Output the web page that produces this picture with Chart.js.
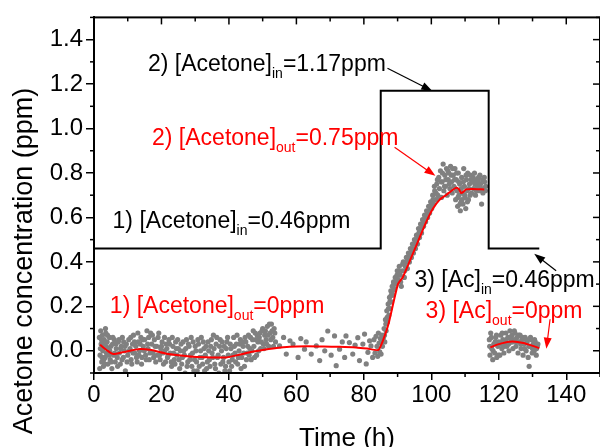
<!DOCTYPE html>
<html>
<head>
<meta charset="utf-8">
<script src="https://cdn.jsdelivr.net/npm/chart.js@4.4.1/dist/chart.umd.min.js"></script>
<style>
  html, body { margin: 0; padding: 0; overflow: hidden; background: #fff; }
  canvas { display: block; }
</style>
</head>
<body>
<canvas id="acetoneChart" width="604" height="447"></canvas>
<script>
// axis ticks
const xTicks = [0, 20, 40, 60, 80, 100, 120, 140];
const xMinorTicks = [10, 30, 50, 70, 90, 110, 130, 150];
const yTicks = [0, 0.2, 0.4, 0.6, 0.8, 1.0, 1.2, 1.4];
const yMinorTicks = [-0.1, 0.1, 0.3, 0.5, 0.7, 0.9, 1.1, 1.3, 1.5];

// inlet concentration (step)
const feedTime = [0, 85, 117, 132];
const feedConc = [0.46, 1.17, 0.46, 0.46];

// smoothed outlet concentration, run 1+2
const fitTime1 = [1.8, 4, 5.7, 9, 13.6, 17, 21.5, 25, 29.4, 35, 39.3, 43, 46.2, 50, 53.1, 58, 63, 68, 72.8, 77.7, 81, 84.3,
  86, 87.3, 90.1, 91.5, 93.5, 96, 98.5, 100.5, 102.5, 104.3, 106, 107.3, 108.2, 108.8, 109.5, 110.3, 112, 115.7];
const fitConc1 = [0.027, 0.0, -0.015, -0.005, 0.008, 0.003, -0.013, -0.02, -0.027, -0.03, -0.03, -0.018, -0.007, 0.003, 0.01, 0.018, 0.02, 0.019, 0.018, 0.015, 0.01, 0.004,
  0.06, 0.12, 0.30, 0.33, 0.40, 0.49, 0.58, 0.64, 0.68, 0.70, 0.72, 0.733, 0.727, 0.71, 0.715, 0.726, 0.728, 0.726];

// smoothed outlet concentration, run 3
const fitTime2 = [117.5, 120, 124, 128, 132];
const fitConc2 = [0.015, 0.03, 0.042, 0.032, 0.012];

// measured outlet points [time, conc]
const baselinePoints = [
  [1.6,0.06],[1.7,-0.08],[1.8,-0.02],[2.0,0.09],[2.1,0.03],[2.2,0.05],[2.3,-0.05],[2.5,0.07],[2.6,0.00],[2.8,-0.07],
  [2.9,-0.04],[3.0,0.05],[3.1,0.02],[3.3,-0.03],[3.4,0.10],[3.5,0.08],[3.7,-0.01],[3.9,0.04],[4.1,-0.06],[4.3,0.01],
  [4.6,0.06],[4.8,-0.04],[5.0,0.02],[5.3,-0.08],[5.5,0.03],[5.8,-0.02],[6.0,0.05],[6.3,-0.05],[6.6,0.01],[6.9,-0.03],
  [7.2,0.04],[7.5,-0.01],[7.8,-0.06],[8.1,0.02],[8.4,0.06],[8.7,-0.03],[9.0,0.00],[9.3,-0.09],[9.6,0.03],[10.0,-0.02],
  [10.3,0.05],[10.7,0.01],[11.0,-0.04],[11.4,0.03],[11.7,0.07],[12.1,-0.01],[12.4,0.02],[12.8,-0.05],[13.1,0.04],[13.5,0.00],
  [13.9,0.06],[14.2,-0.03],[14.6,0.02],[15.0,0.05],[15.3,-0.02],[15.7,0.09],[16.0,0.01],[16.4,-0.04],[16.8,0.08],[17.1,0.03],
  [17.5,-0.01],[17.9,0.05],[18.3,-0.05],[18.6,0.02],[19.0,0.06],[19.4,-0.02],[19.8,0.01],[20.2,0.04],[20.6,-0.06],[21.0,0.00],
  [21.4,0.03],[21.8,-0.03],[22.2,0.05],[22.6,-0.01],[23.0,-0.07],[23.4,0.02],[23.8,-0.04],[24.2,0.04],[24.6,-0.02],[25.0,0.01],
  [25.4,-0.08],[25.8,0.03],[26.2,-0.03],[26.6,0.00],[27.0,-0.10],[27.4,0.05],[27.8,-0.05],[28.2,0.02],[28.6,-0.02],[29.0,-0.07],
  [29.4,0.04],[29.8,-0.04],[30.2,0.00],[30.6,-0.09],[31.0,0.03],[31.4,-0.03],[31.8,0.06],[32.2,-0.06],[32.6,0.01],[33.0,-0.02],
  [33.4,-0.08],[33.8,0.04],[34.2,-0.04],[34.6,0.02],[35.0,-0.01],[35.4,0.07],[35.8,-0.06],[36.2,0.03],[36.6,-0.03],[37.0,-0.10],
  [37.4,0.05],[37.8,0.00],[38.2,-0.05],[38.6,0.02],[39.0,-0.07],[39.4,0.04],[39.8,-0.02],[40.2,-0.09],[40.6,0.01],[41.0,-0.04],
  [41.4,0.06],[41.8,-0.01],[42.2,0.03],[42.6,-0.06],[43.0,0.00],[43.4,0.05],[43.8,-0.03],[44.2,0.02],[44.6,-0.07],[45.0,0.04],
  [45.4,-0.01],[45.8,0.07],[46.2,0.01],[46.6,-0.04],[47.0,0.05],[47.4,0.02],[47.8,0.08],[48.2,-0.02],[48.6,0.04],[49.0,0.06],
  [49.4,0.01],[49.8,0.09],[50.2,0.03],[50.6,0.07],[51.0,0.05],[51.4,0.11],[51.8,0.02],[52.2,0.08],[52.6,0.12],[53.0,0.06],
  [53.4,0.10],[53.8,0.04],
  [1.9,0.01],[2.4,-0.03],[2.7,0.04],[3.2,-0.06],[3.6,0.02],[4.0,0.07],[4.4,-0.02],[4.7,0.00],[5.1,-0.05],[5.6,0.06],
  [6.1,-0.01],[6.5,0.03],[7.0,-0.07],[7.4,0.05],[7.9,0.01],[8.3,-0.04],[8.8,0.04],[9.2,0.02],[9.8,-0.05],[10.5,0.00],
  [10.9,0.06],[11.2,-0.06],[11.6,-0.01],[12.0,0.04],[12.6,-0.03],[13.0,0.08],[13.3,-0.02],[13.7,0.03],[14.1,-0.06],[14.4,0.05],
  [14.9,0.00],[15.5,-0.04],[15.9,0.03],[16.2,0.06],[16.6,-0.01],[17.3,0.07],[17.7,-0.03],[18.1,0.02],[18.8,-0.02],[19.2,0.08],
  [19.6,-0.04],[20.0,0.02],[20.4,-0.01],[20.9,0.06],[21.2,-0.05],[21.6,0.01],[22.0,-0.02],[22.4,0.03],[22.9,-0.05],[23.2,0.06],
  [23.6,-0.01],[24.0,-0.06],[24.4,0.01],[24.8,0.05],[25.2,-0.04],[25.6,0.00],[26.0,-0.06],[26.4,0.04],[26.8,-0.02],[27.2,0.01],
  [27.6,-0.07],[28.0,0.03],[28.4,-0.04],[28.8,0.06],[29.2,-0.01],[29.6,-0.09],[30.0,0.02],[30.4,-0.05],[30.8,0.05],[31.2,-0.07],
  [31.6,0.00],[32.0,-0.03],[32.4,0.04],[32.8,-0.09],[33.2,0.02],[33.6,-0.05],[34.0,0.00],[34.4,-0.07],[34.8,0.05],[35.2,-0.03],
  [35.6,0.01],[36.0,-0.08],[36.4,0.06],[36.8,-0.02],[37.2,0.02],[37.6,-0.06],[38.0,0.04],[38.4,-0.03],[38.8,-0.09],[39.2,0.01],
  [39.6,0.06],[40.0,-0.05],[40.4,0.03],[40.8,-0.07],[41.2,-0.02],[41.6,0.02],[42.0,-0.05],[42.4,0.07],[42.8,-0.03],[43.2,0.03],
  [43.6,-0.08],[44.0,0.04],[44.4,-0.01],[44.8,0.06],[45.2,-0.04],[45.6,0.02],[46.0,-0.02],[46.4,0.06],[46.8,0.00],[47.2,0.09],
  [47.6,-0.03],[48.0,0.05],[48.4,0.07],[48.8,0.00],[49.2,0.08],[49.6,0.04],[50.0,0.10],[50.4,0.01],[50.8,0.09],[51.2,0.03],
  [51.6,0.07],[52.0,0.12],[52.4,0.05],[52.8,0.09],[53.2,0.02],[53.6,0.08],
  [55.0,0.022],[56.2,0.06],[57.0,-0.015],[58.1,0.045],[59.0,0.03],[60.5,-0.03],[61.3,0.055],[62.4,0.007],[62.9,0.04],[64.4,-0.015],
  [65.9,0.022],[66.9,-0.044],[67.6,0.05],[68.4,0.0],[69.3,0.089],[70.3,-0.02],[71.3,0.067],[71.8,-0.067],[72.8,0.007],[73.6,0.04],
  [74.3,-0.03],[74.7,0.067],[75.7,0.037],[76.7,-0.015],[77.4,0.025],[78.2,0.059],[78.7,-0.044],[79.7,0.03],[80.2,0.075],[80.7,-0.059],
  [81.2,-0.007],[81.7,0.045],[82.1,0.022],[82.6,-0.03],[83.0,0.05],[83.3,-0.01],[83.6,0.065],[83.9,0.02],[84.1,-0.025],[84.3,0.08],
  [84.5,0.035],[84.7,-0.005],[84.9,0.055],[85.1,-0.015],[85.3,0.07],[85.5,0.02],[85.7,0.045]
];

const risePoints = [
  [85.8,0.06],[86.0,0.10],[86.2,0.04],[86.4,0.14],[86.6,0.09],[86.8,0.18],[87.0,0.13],[87.2,0.21],[87.4,0.16],[87.6,0.24],
  [87.8,0.19],[88.0,0.27],[88.2,0.22],[88.4,0.29],[88.6,0.25],[88.8,0.31],[89.0,0.28],[89.3,0.33],[89.6,0.30],[89.9,0.36],
  [90.2,0.32],[90.5,0.38],[90.8,0.34],[91.1,0.29],[91.4,0.36],[91.7,0.40],[92.0,0.33],[92.3,0.38],[92.6,0.42],[92.9,0.37],
  [93.2,0.44],[93.5,0.40],[93.8,0.46],[94.1,0.42],[94.4,0.48],[94.7,0.44],[95.0,0.50],[95.3,0.46],[95.6,0.52],[95.9,0.48],
  [96.2,0.55],[96.5,0.51],[96.8,0.57],[97.1,0.53],[97.4,0.59],[97.7,0.56],[98.0,0.61],[98.3,0.58],[98.6,0.63],[98.9,0.60],
  [99.2,0.65],[99.5,0.62],[99.8,0.67],[100.1,0.64],
  [86.1,0.07],[86.5,0.12],[86.9,0.15],[87.3,0.19],[87.7,0.22],[88.1,0.25],[88.5,0.27],[88.9,0.30],[89.4,0.31],[89.8,0.34],
  [90.3,0.36],[90.9,0.31],[91.5,0.39],[92.1,0.36],[92.7,0.40],[93.3,0.42],[93.9,0.44],[94.5,0.46],[95.1,0.48],[95.7,0.50],
  [96.3,0.53],[96.9,0.55],[97.5,0.57],[98.1,0.59],[98.7,0.61],[99.3,0.63],[99.9,0.65],
  [100.4,0.70],[100.7,0.66],[101.0,0.72],[101.3,0.68],[101.6,0.75],[101.9,0.70],[102.2,0.78],[102.4,0.73],[102.7,0.81],[103.0,0.69],
  [103.2,0.76],[103.5,0.84],[103.7,0.72],[104.0,0.79],[104.2,0.74],[104.5,0.82],[104.7,0.70],[105.0,0.77],[105.2,0.80],[105.5,0.73],
  [105.7,0.83],[106.0,0.76],[106.2,0.71],[106.5,0.79],[106.7,0.74],[107.0,0.82],[107.2,0.68],[107.4,0.77],[107.6,0.72],[107.8,0.65],
  [108.0,0.80],[108.2,0.70],[108.4,0.75],[108.6,0.63],[108.8,0.67],[109.0,0.78],[109.2,0.71],[109.4,0.66],[109.6,0.82],[109.8,0.74],
  [110.0,0.69],[110.2,0.64],[110.4,0.77],[110.6,0.72],[110.8,0.80],[111.0,0.68],[111.3,0.75],[111.6,0.79],[111.9,0.71],[112.2,0.76],
  [112.5,0.73],[112.8,0.80],[113.1,0.70],[113.4,0.77],[113.7,0.74],[114.0,0.78],[114.3,0.72],[114.6,0.75],[114.9,0.66],[115.2,0.77],
  [115.5,0.73],[115.8,0.76],[116.1,0.74],
  [100.5,0.68],[100.9,0.74],[101.4,0.71],[101.8,0.77],[102.3,0.69],[102.9,0.76],[103.3,0.80],[103.9,0.74],[104.3,0.77],[104.9,0.81],
  [105.3,0.75],[105.9,0.79],[106.3,0.82],[106.9,0.77],[107.1,0.73],[107.5,0.80],[107.9,0.69],[108.1,0.76],[108.5,0.66],[108.9,0.73],
  [109.1,0.68],[109.5,0.76],[109.9,0.70],[110.3,0.79],[110.7,0.67],[111.1,0.73],[111.5,0.70],[111.8,0.77],[112.4,0.78],[112.9,0.75],
  [113.3,0.72],[113.9,0.76],[114.4,0.79],[114.8,0.73],[115.3,0.71],[115.7,0.78],[116.0,0.72]
];

const recoveryPoints = [
  [117.2,0.05],[117.4,-0.02],[117.6,0.08],[117.9,0.01],[118.2,-0.04],[118.5,0.03],[118.8,-0.01],[119.1,0.06],[119.4,-0.03],[119.7,0.02],
  [120.0,0.04],[120.3,-0.02],[120.6,0.07],[120.9,0.01],[121.2,0.05],[121.5,-0.01],[121.8,0.03],[122.1,0.08],[122.4,0.02],[122.7,0.06],
  [123.0,0.00],[123.3,0.09],[123.6,0.04],[123.9,0.07],[124.2,0.01],[124.5,0.05],[124.8,0.08],[125.1,0.02],[125.4,0.06],[125.7,-0.01],
  [126.0,0.04],[126.3,0.07],[126.6,0.01],[126.9,0.05],[127.2,-0.02],[127.5,0.03],[127.8,0.06],[128.1,0.00],[128.4,0.04],[128.7,-0.03],
  [129.0,-0.07],[129.3,0.02],[129.6,0.05],[129.9,-0.01],[130.2,0.03],[130.5,0.00],[130.8,0.04],[131.1,-0.02],[131.4,0.02],
  [117.3,0.02],[117.8,0.06],[118.3,0.00],[118.9,0.04],[119.3,0.07],[119.9,-0.02],[120.5,0.03],[121.0,0.08],[121.6,0.02],[122.2,0.05],
  [122.9,0.03],[123.5,0.06],[124.0,0.04],[124.6,0.09],[125.2,0.04],[125.9,0.07],[126.5,0.03],[127.0,0.06],[127.6,0.01],[128.2,0.05],
  [128.9,0.02],[129.4,0.06],[130.0,0.01],[130.6,0.05],[131.2,0.01],[131.6,0.03]
];

// labels: text parts ([text, isSubscript]) anchored at data coords (left, baseline)
const notes = [
  { parts: [['2) [Acetone]'], ['in', 1], ['=1.17ppm']], x: 16.0, y: 1.258, color: '#000' },
  { parts: [['2) [Acetone]'], ['out', 1], ['=0.75ppm']], x: 17.2, y: 0.924, color: '#ff0000' },
  { parts: [['1) [Acetone]'], ['in', 1], ['=0.46ppm']], x: 5.5, y: 0.551, color: '#000' },
  { parts: [['1) [Acetone]'], ['out', 1], ['=0ppm']], x: 4.7, y: 0.17, color: '#ff0000' },
  { parts: [['3) [Ac]'], ['in', 1], ['=0.46ppm']], x: 95.0, y: 0.289, color: '#000' },
  { parts: [['3) [Ac]'], ['out', 1], ['=0ppm']], x: 98.3, y: 0.148, color: '#ff0000' }
];
const arrows = [
  { from: [87.0, 1.271], to: [100.3, 1.169], color: '#000' },
  { from: [89.1, 0.916], to: [101.2, 0.787], color: '#ff0000' },
  { from: [137.0, 0.36], to: [130.5, 0.436], color: '#000' },
  { from: [135.2, 0.142], to: [134.1, 0.009], color: '#ff0000' }
];

const FONT = '"Liberation Sans", Arial, sans-serif';
const toXY = (ts, cs) => ts.map((t, i) => ({ x: t, y: cs[i] }));
const toPts = (arr) => arr.map(p => ({ x: p[0], y: p[1] }));

function drawArrow(ctx, x1, y1, x2, y2, color) {
  const a = Math.atan2(y2 - y1, x2 - x1);
  const L = 11, W = 4;
  ctx.strokeStyle = color;
  ctx.fillStyle = color;
  ctx.lineWidth = 1.2;
  ctx.beginPath();
  ctx.moveTo(x1, y1);
  ctx.lineTo(x2 - L * 0.7 * Math.cos(a), y2 - L * 0.7 * Math.sin(a));
  ctx.stroke();
  ctx.beginPath();
  ctx.moveTo(x2, y2);
  ctx.lineTo(x2 - L * Math.cos(a) + W * Math.sin(a), y2 - L * Math.sin(a) - W * Math.cos(a));
  ctx.lineTo(x2 - L * Math.cos(a) - W * Math.sin(a), y2 - L * Math.sin(a) + W * Math.cos(a));
  ctx.closePath();
  ctx.fill();
}

const framePlugin = {
  id: 'frame',
  afterDraw(chart) {
    const ctx = chart.ctx;
    const xs = chart.scales.x, ys = chart.scales.y;
    const { left, right, top, bottom } = chart.chartArea;
    ctx.save();
    ctx.strokeStyle = '#000';
    ctx.lineWidth = 2;
    ctx.strokeRect(left, top, right - left, bottom - top);

    const seg = (x1, y1, x2, y2) => { ctx.beginPath(); ctx.moveTo(x1, y1); ctx.lineTo(x2, y2); ctx.stroke(); };
    ctx.lineWidth = 1.5;
    xTicks.forEach(v => { const p = xs.getPixelForValue(v); seg(p, top, p, top + 7); });
    xMinorTicks.forEach(v => {
      const p = xs.getPixelForValue(v);
      seg(p, bottom, p, bottom + 4);
      seg(p, top, p, top + 4);
    });
    yTicks.forEach(v => { const p = ys.getPixelForValue(v); seg(right, p, right - 7, p); });
    yMinorTicks.forEach(v => {
      const p = ys.getPixelForValue(v);
      seg(left, p, left - 4, p);
      seg(right, p, right - 4, p);
    });

    // annotations
    ctx.textAlign = 'left';
    ctx.textBaseline = 'alphabetic';
    notes.forEach(n => {
      let cx = xs.getPixelForValue(n.x);
      const by = ys.getPixelForValue(n.y);
      ctx.fillStyle = n.color;
      n.parts.forEach(([txt, sub]) => {
        ctx.font = (sub ? '14px ' : '23px ') + FONT;
        ctx.fillText(txt, cx, sub ? by + 7 : by);
        cx += ctx.measureText(txt).width;
      });
    });
    arrows.forEach(a => {
      drawArrow(ctx, xs.getPixelForValue(a.from[0]), ys.getPixelForValue(a.from[1]),
        xs.getPixelForValue(a.to[0]), ys.getPixelForValue(a.to[1]), a.color);
    });

    // axis titles
    ctx.fillStyle = '#000';
    ctx.font = '26px ' + FONT;
    ctx.textAlign = 'center';
    ctx.fillText('Time (h)', (left + right) / 2, 446);
    ctx.save();
    ctx.translate(32, 261);
    ctx.rotate(-Math.PI / 2);
    ctx.font = '27px ' + FONT;
    ctx.fillText('Acetone concentration (ppm)', 0, 0);
    ctx.restore();
    ctx.restore();
  }
};

new Chart(document.getElementById('acetoneChart'), {
  type: 'line',
  data: {
    datasets: [
      { data: toXY(fitTime1, fitConc1), borderColor: '#ff0000', borderWidth: 2, pointRadius: 0, tension: 0.2, fill: false },
      { data: toXY(fitTime2, fitConc2), borderColor: '#ff0000', borderWidth: 2, pointRadius: 0, tension: 0.4, fill: false },
      { data: toXY(feedTime, feedConc), borderColor: '#000', borderWidth: 2, pointRadius: 0, stepped: 'before', fill: false },
      {
        data: toPts(baselinePoints.concat(risePoints, recoveryPoints)),
        showLine: false, pointRadius: 2.6, pointBorderWidth: 0,
        pointBackgroundColor: '#808080', borderColor: '#808080'
      }
    ]
  },
  options: {
    responsive: false,
    animation: false,
    devicePixelRatio: 1,
    layout: { padding: { top: 13, right: 3, left: 0, bottom: 0 } },
    plugins: { legend: { display: false }, tooltip: { enabled: false } },
    scales: {
      x: {
        type: 'linear', min: 0, max: 150,
        afterBuildTicks: s => { s.ticks = xTicks.map(v => ({ value: v })); },
        afterFit: s => { s.height = 74; },
        grid: { drawOnChartArea: false, tickLength: 7, color: '#000', lineWidth: 1.5 },
        border: { color: '#000', width: 2 },
        ticks: { color: '#000', font: { family: FONT, size: 24 }, padding: 1, maxRotation: 0 }
      },
      y: {
        type: 'linear', min: -0.1, max: 1.5,
        afterBuildTicks: s => { s.ticks = yTicks.map(v => ({ value: v })); },
        afterFit: s => { s.width = 94; },
        grid: { drawOnChartArea: false, tickLength: 8, color: '#000', lineWidth: 1.5 },
        border: { color: '#000', width: 2 },
        ticks: { color: '#000', font: { family: FONT, size: 24 }, padding: 3, callback: v => v.toFixed(1) }
      }
    }
  },
  plugins: [framePlugin]
});
</script>
</body>
</html>
